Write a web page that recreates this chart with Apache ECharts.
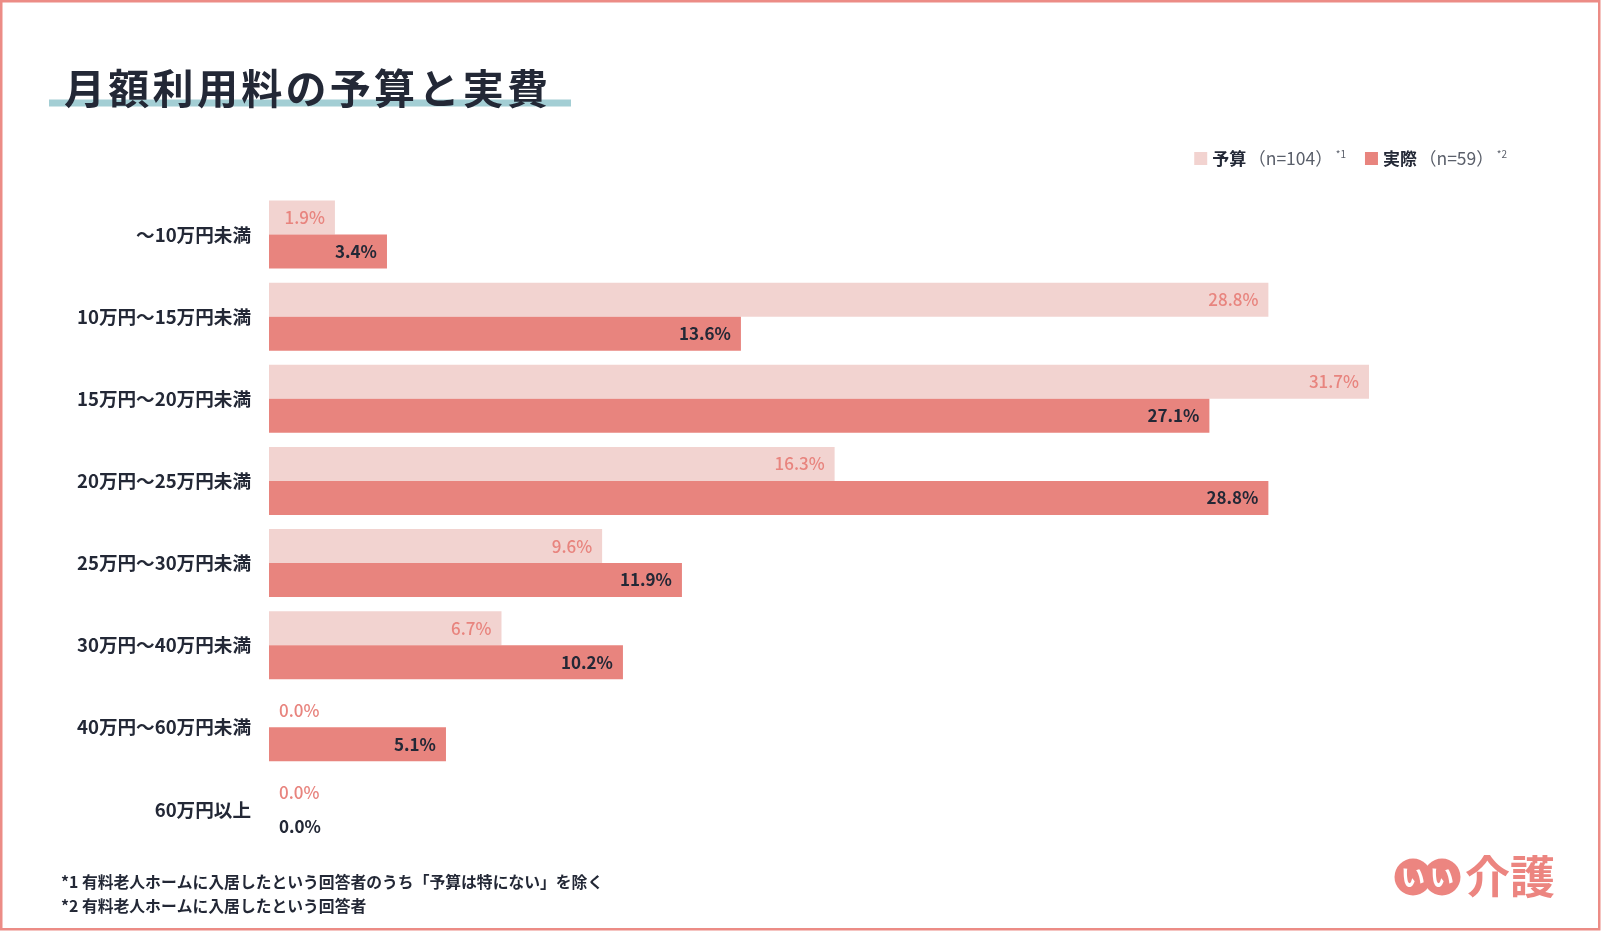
<!DOCTYPE html>
<html><head><meta charset="utf-8">
<script src="https://cdn.jsdelivr.net/npm/echarts@6/dist/echarts.min.js"></script>
<style>html,body{margin:0;padding:0;background:#fff}#c{width:1604px;height:935px}</style>
</head><body><div id="c"></div>
<script>
const categories = ['〜10万円未満','10万円〜15万円未満','15万円〜20万円未満','20万円〜25万円未満','25万円〜30万円未満','30万円〜40万円未満','40万円〜60万円未満','60万円以上'];
const budget = [1.9, 28.8, 31.7, 16.3, 9.6, 6.7, 0.0, 0.0];
const actual = [3.4, 13.6, 27.1, 28.8, 11.9, 10.2, 5.1, 0.0];
const seriesNames = ['予算', '実際'];
const legendNotes = {'予算': ['（n=104）', '*1'], '実際': ['（n=59）', '*2']};
const titleText = '月額利用料の予算と実費';
const footnotes = ['*1 有料老人ホームに入居したという回答者のうち「予算は特にない」を除く', '*2 有料老人ホームに入居したという回答者'];

const FONT = '"Noto Sans CJK JP", "Noto Sans", sans-serif';
const C_LIGHT = '#F2D3D0';
const C_DARK = '#E8847E';
const C_TEXT = '#232836';

function makeData(vals, zeroColor) {
  return vals.map(v => v === 0 ? {value: v, label: {position: 'right', distance: 10, color: zeroColor}} : v);
}

const chart = echarts.init(document.getElementById('c'), null, {renderer: 'canvas'});

const titleGraphics = titleText.split('').map((ch, i) => ({
  type: 'text', left: 64 + i * 44.3, top: 68, z: 10,
  style: {text: ch, font: 'bold 41px ' + FONT, fill: C_TEXT}
}));

chart.setOption({
  animation: false,
  textStyle: {fontFamily: FONT},
  grid: {left: 269, right: 117, top: 193.5, bottom: 84.5, containLabel: false},
  legend: {
    right: 92, top: 144, itemWidth: 13, itemHeight: 13, itemGap: 19, icon: 'rect',
    data: seriesNames,
    formatter: name => '{b|' + name + '}{n|' + legendNotes[name][0] + '}{s|' + legendNotes[name][1] + '}',
    textStyle: {
      rich: {
        b: {fontSize: 17, fontWeight: 'bold', color: C_TEXT, fontFamily: FONT},
        n: {fontSize: 17.5, color: '#5a5f6a', fontFamily: FONT, padding: [0, 1, 0, 2]},
        s: {fontSize: 10, color: '#5a5f6a', fontFamily: FONT, padding: [0, 0, 9, 2]}
      }
    }
  },
  xAxis: {type: 'value', min: 0, max: 35.1, show: false, splitLine: {show: false}},
  yAxis: {
    type: 'category', data: categories, inverse: true,
    axisLine: {show: false}, axisTick: {show: false},
    axisLabel: {fontSize: 18.6, fontWeight: 'bold', color: C_TEXT, margin: 18, fontFamily: FONT}
  },
  series: [
    {
      name: seriesNames[0], type: 'bar', data: makeData(budget, C_DARK),
      itemStyle: {color: C_LIGHT}, barGap: '0%', barCategoryGap: '17.3%',
      label: {show: true, position: 'insideRight', distance: 10, fontSize: 17, fontWeight: 500, color: C_DARK,
        fontFamily: FONT, formatter: p => p.value.toFixed(1) + '%'}
    },
    {
      name: seriesNames[1], type: 'bar', data: makeData(actual, C_TEXT),
      itemStyle: {color: C_DARK}, barGap: '0%', barCategoryGap: '17.3%',
      label: {show: true, position: 'insideRight', distance: 10, fontSize: 17, fontWeight: 'bold', color: C_TEXT,
        fontFamily: FONT, formatter: p => p.value.toFixed(1) + '%'}
    }
  ],
  graphic: [
    {type: 'rect', shape: {x: 1.25, y: 1.25, width: 1598, height: 928}, style: {fill: null, stroke: '#EC8C86', lineWidth: 2.5}, silent: true},
    {type: 'rect', shape: {x: 49, y: 99.5, width: 522, height: 7}, style: {fill: '#A3CED4'}, z: 5},
    ...titleGraphics,
    {type: 'text', left: 61, top: 874, style: {text: footnotes[0], font: 'bold 15.8px ' + FONT, fill: C_TEXT}},
    {type: 'text', left: 61, top: 898, style: {text: footnotes[1], font: 'bold 15.8px ' + FONT, fill: C_TEXT}},
    {type: 'circle', shape: {cx: 1413, cy: 877, r: 18.5}, style: {fill: '#EC8580'}},
    {type: 'circle', shape: {cx: 1442, cy: 877, r: 18.5}, style: {fill: '#EC8580'}},
    {type: 'text', x: 1413, y: 877, style: {text: 'い', font: 'bold 24px ' + FONT, fill: '#fff', align: 'center', verticalAlign: 'middle'}, z: 3},
    {type: 'text', x: 1442, y: 877, style: {text: 'い', font: 'bold 24px ' + FONT, fill: '#fff', align: 'center', verticalAlign: 'middle'}, z: 3},
    {type: 'text', x: 1465, y: 877, style: {text: '介護', font: 'bold 45px ' + FONT, fill: '#EC8580', verticalAlign: 'middle'}}
  ]
});
</script></body></html>
